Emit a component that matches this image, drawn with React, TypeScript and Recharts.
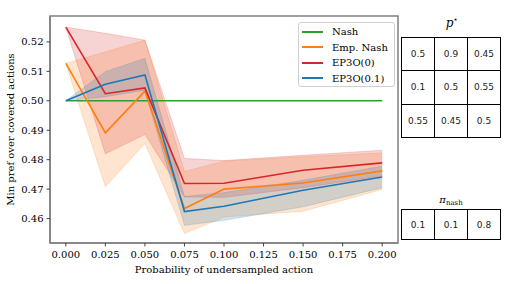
import { ComposedChart, Line, Area, XAxis, YAxis, ReferenceArea } from "recharts";

const probs = [0, 0.025, 0.05, 0.075, 0.1, 0.15, 0.2];
const nashPref = [0.5, 0.5, 0.5, 0.5, 0.5, 0.5, 0.5];
const empNashMean = [0.5127, 0.4891, 0.5033, 0.4634, 0.47, 0.4721, 0.4762];
const empNashLow = [0.5127, 0.4708, 0.4855, 0.4549, 0.4605, 0.4625, 0.4699];
const empNashHigh = [0.5127, 0.5166, 0.5206, 0.476, 0.4795, 0.481, 0.4823];
const ep0Mean = [0.525, 0.5024, 0.5044, 0.4719, 0.472, 0.4764, 0.4789];
const ep0Low = [0.525, 0.482, 0.4886, 0.4673, 0.4672, 0.4705, 0.4745];
const ep0High = [0.525, 0.5229, 0.5206, 0.4804, 0.4797, 0.4815, 0.4832];
const ep01Mean = [0.5, 0.5056, 0.5088, 0.4624, 0.4642, 0.4696, 0.4741];
const ep01Low = [0.5, 0.5014, 0.5036, 0.4577, 0.4594, 0.464, 0.4705];
const ep01High = [0.5, 0.5099, 0.5144, 0.4675, 0.4688, 0.473, 0.4778];

const xTicks = [0, 0.025, 0.05, 0.075, 0.1, 0.125, 0.15, 0.175, 0.2];
const yTicks = [0.46, 0.47, 0.48, 0.49, 0.5, 0.51, 0.52];

const pStar = [
  ["0.5", "0.9", "0.45"],
  ["0.1", "0.5", "0.55"],
  ["0.55", "0.45", "0.5"],
];
const piNash = [["0.1", "0.1", "0.8"]];

const GREEN = "#2ca02c";
const ORANGE = "#ff7f0e";
const RED = "#d62728";
const BLUE = "#1f77b4";
const SPINE = "#808080";
const SERIF = "'DejaVu Serif', serif";

const data = probs.map((p, i) => ({
  p,
  nash: nashPref[i],
  emp: empNashMean[i],
  empBand: [empNashLow[i], empNashHigh[i]],
  ep0: ep0Mean[i],
  ep0Band: [ep0Low[i], ep0High[i]],
  ep01: ep01Mean[i],
  ep01Band: [ep01Low[i], ep01High[i]],
}));

const legendItems = [
  { name: "Nash", color: GREEN },
  { name: "Emp. Nash", color: ORANGE },
  { name: "EP3O(0)", color: RED },
  { name: "EP3O(0.1)", color: BLUE },
];

function Table({ rows, top, rowH }: { rows: string[][]; top: number; rowH: number }) {
  return (
    <table
      style={{
        position: "absolute",
        left: 401,
        top,
        borderCollapse: "collapse",
        fontFamily: "'DejaVu Sans', sans-serif",
        fontSize: 9,
        color: "#222",
      }}
    >
      <tbody>
        {rows.map((r, i) => (
          <tr key={i}>
            {r.map((c, j) => (
              <td
                key={j}
                style={{
                  border: "1px solid #000",
                  width: 32,
                  height: rowH - 1,
                  padding: 0,
                  textAlign: "center",
                  background: "#fff",
                }}
              >
                {c}
              </td>
            ))}
          </tr>
        ))}
      </tbody>
    </table>
  );
}

export default function App() {
  const tick = { fill: "#000", fontSize: 10, fontFamily: SERIF };
  return (
    <div style={{ position: "absolute", left: 0, top: 0, width: 505, height: 284, background: "#fff" }}>
      <ComposedChart width={505} height={284} data={data} margin={{ top: 16, right: 107, bottom: 0, left: 0 }}>
        <XAxis
          dataKey="p"
          type="number"
          domain={[-0.01, 0.21]}
          ticks={xTicks}
          tickFormatter={(v: number) => v.toFixed(3)}
          tick={tick}
          height={41}
          tickSize={3.5}
          tickMargin={4}
          tickLine={{ stroke: "#444" }}
          axisLine={{ stroke: SPINE, strokeWidth: 1.5 }}
          allowDataOverflow
        />
        <YAxis
          type="number"
          domain={[0.4517, 0.5288]}
          ticks={yTicks}
          tickFormatter={(v: number) => v.toFixed(2)}
          tick={tick}
          width={50}
          tickSize={3.5}
          tickMargin={3}
          tickLine={{ stroke: "#444" }}
          axisLine={{ stroke: SPINE, strokeWidth: 1.5 }}
          allowDataOverflow
        />
        <Area dataKey="empBand" type="linear" fill={ORANGE} fillOpacity={0.2} stroke={ORANGE} strokeOpacity={0.2} isAnimationActive={false} />
        <Area dataKey="ep0Band" type="linear" fill={RED} fillOpacity={0.2} stroke={RED} strokeOpacity={0.2} isAnimationActive={false} />
        <Area dataKey="ep01Band" type="linear" fill={BLUE} fillOpacity={0.2} stroke={BLUE} strokeOpacity={0.2} isAnimationActive={false} />
        <Line dataKey="nash" type="linear" stroke={GREEN} strokeWidth={1.6} dot={false} isAnimationActive={false} />
        <Line dataKey="emp" type="linear" stroke={ORANGE} strokeWidth={1.6} dot={false} isAnimationActive={false} />
        <Line dataKey="ep0" type="linear" stroke={RED} strokeWidth={1.6} dot={false} isAnimationActive={false} />
        <Line dataKey="ep01" type="linear" stroke={BLUE} strokeWidth={1.6} dot={false} isAnimationActive={false} />
        <ReferenceArea x1={-0.01} x2={0.21} y1={0.4517} y2={0.5288} fill="none" stroke={SPINE} strokeWidth={1.5} ifOverflow="visible" />
      </ComposedChart>

      <svg width={505} height={284} style={{ position: "absolute", left: 0, top: 0, pointerEvents: "none" }}>
        <text x={224} y={272.5} textAnchor="middle" fontFamily={SERIF} fontSize={10} fill="#000">
          Probability of undersampled action
        </text>
        <text transform="translate(13.5,129.5) rotate(-90)" textAnchor="middle" fontFamily={SERIF} fontSize={10} fill="#000">
          Min pref over covered actions
        </text>
        <text x={452} y={27} textAnchor="middle" fontFamily={SERIF} fontSize={12} fontStyle="italic" fill="#000">
          p<tspan dy={-5} fontSize={8} fontStyle="normal">⋆</tspan>
        </text>
        <text x={451} y={203} textAnchor="middle" fontFamily={SERIF} fontSize={10} fill="#000">
          <tspan fontStyle="italic">π</tspan>
          <tspan dy={2} fontSize={7}>nash</tspan>
        </text>
      </svg>

      <div
        style={{
          position: "absolute",
          left: 298,
          top: 22,
          width: 95,
          height: 63,
          border: "1px solid #d0d0d0",
          borderRadius: 3,
          background: "rgba(255,255,255,0.8)",
          fontFamily: SERIF,
          fontSize: 10,
          color: "#000",
        }}
      >
        {legendItems.map((it, i) => (
          <div key={it.name} style={{ position: "absolute", left: 3, top: 1 + i * 15.5, height: 15, display: "flex", alignItems: "center" }}>
            <span style={{ display: "inline-block", width: 21, height: 2, background: it.color, marginRight: 9 }} />
            <span>{it.name}</span>
          </div>
        ))}
      </div>

      <Table rows={pStar} top={37} rowH={33.3} />
      <Table rows={piNash} top={209} rowH={30} />
    </div>
  );
}
